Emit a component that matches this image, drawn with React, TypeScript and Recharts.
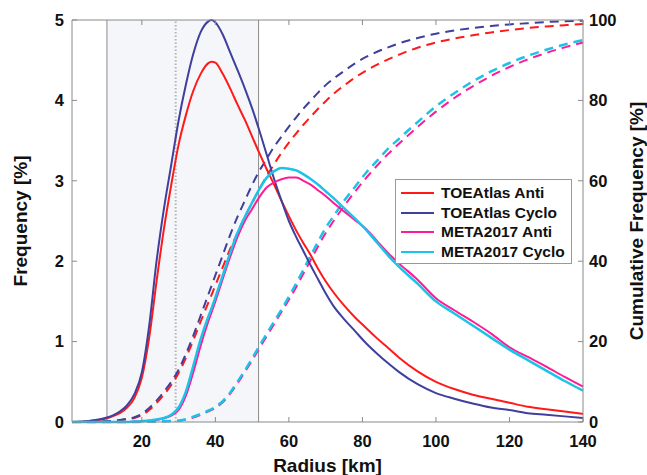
import { LineChart, Line, XAxis, YAxis, ReferenceArea, ReferenceLine, Legend, Label } from 'recharts';

const radius = [1, 5, 10, 12, 14, 16, 18, 20, 22, 24, 26, 28, 30, 32, 34, 36, 38, 39, 40, 42, 44, 46, 48, 50, 52, 54, 56, 58, 60, 62, 64, 66, 68, 70, 72, 75, 78, 81, 84, 87, 90, 95, 100, 105, 110, 115, 120, 125, 130, 135, 140];

// frequency [%]
const toeAnti = [0, 0.01, 0.04, 0.07, 0.11, 0.18, 0.3, 0.55, 1.05, 1.75, 2.4, 2.95, 3.45, 3.82, 4.12, 4.33, 4.46, 4.48, 4.47, 4.33, 4.15, 3.95, 3.76, 3.55, 3.34, 3.14, 2.95, 2.75, 2.56, 2.38, 2.22, 2.07, 1.9, 1.75, 1.62, 1.45, 1.3, 1.17, 1.04, 0.92, 0.8, 0.63, 0.5, 0.41, 0.34, 0.29, 0.24, 0.19, 0.16, 0.13, 0.1];
const toeCyclo = [0, 0.01, 0.05, 0.08, 0.13, 0.21, 0.35, 0.62, 1.2, 2.0, 2.65, 3.2, 3.75, 4.2, 4.58, 4.85, 4.98, 5.0, 4.97, 4.82, 4.6, 4.38, 4.15, 3.9, 3.62, 3.32, 3.02, 2.75, 2.5, 2.3, 2.12, 1.94, 1.77, 1.6, 1.45, 1.28, 1.13, 0.98, 0.85, 0.73, 0.62, 0.47, 0.36, 0.29, 0.23, 0.18, 0.15, 0.11, 0.09, 0.07, 0.05];
const metaAnti = [0, 0, 0, 0, 0, 0, 0.005, 0.01, 0.015, 0.025, 0.045, 0.08, 0.15, 0.33, 0.62, 0.95, 1.24, 1.37, 1.5, 1.78, 2.05, 2.3, 2.5, 2.65, 2.8, 2.92, 2.98, 3.02, 3.04, 3.04, 3.0, 2.95, 2.88, 2.81, 2.73, 2.62, 2.51, 2.4, 2.25, 2.1, 1.97, 1.77, 1.54, 1.39, 1.25, 1.1, 0.93, 0.81, 0.69, 0.56, 0.44];
const metaCyclo = [0, 0, 0, 0, 0, 0, 0.005, 0.01, 0.02, 0.03, 0.05, 0.09, 0.18, 0.38, 0.7, 1.03, 1.3, 1.42, 1.55, 1.82, 2.1, 2.35, 2.55, 2.73, 2.9, 3.04, 3.12, 3.16, 3.15, 3.13, 3.08, 3.02, 2.95, 2.87, 2.79, 2.66, 2.53, 2.39, 2.23, 2.07, 1.93, 1.72, 1.5, 1.35, 1.2, 1.05, 0.9, 0.77, 0.64, 0.51, 0.39];

// cumulative frequency [%]
const toeAntiCum = [0, 0, 0.1, 0.2, 0.4, 0.7, 1.0, 1.7, 3.0, 4.7, 6.8, 9.2, 12.2, 16, 20.3, 25, 29.5, 31.7, 34, 38.5, 43, 47, 51, 54.5, 58, 61.2, 64.2, 67, 69.5, 71.8, 74, 76, 78, 79.8, 81.5, 83.7, 85.7, 87.4, 88.9, 90.2, 91.4, 93.1, 94.4, 95.4, 96.2, 96.9, 97.5, 98, 98.4, 98.7, 99];
const toeCycloCum = [0, 0, 0.2, 0.3, 0.5, 0.8, 1.2, 2.0, 3.5, 5.3, 7.5, 10, 13, 17, 21.5, 26.5, 31.5, 34, 36.5, 41.5, 46.5, 51, 55, 59, 62.5, 65.5, 68.5, 71, 73.5, 75.8, 78, 80, 82, 83.8, 85.3, 87.3, 89.2, 90.8, 92.1, 93.2, 94.2, 95.5, 96.6, 97.4, 98, 98.5, 98.9, 99.2, 99.5, 99.7, 99.8];
const metaAntiCum = [0, 0, 0, 0, 0, 0, 0, 0.05, 0.1, 0.15, 0.2, 0.25, 0.3, 0.6, 1.1, 1.8, 2.6, 3.0, 3.5, 4.9, 7.0, 9.6, 12.4, 15.3, 18.4, 21.4, 24.4, 27.4, 30.4, 33.6, 37, 40.4, 43.8, 47, 49.8, 53.7, 57.3, 60.7, 63.8, 66.7, 69.3, 73.4, 77.2, 80.6, 83.5, 86.1, 88.3, 90.2, 91.8, 93.2, 94.4];
const metaCycloCum = [0, 0, 0, 0, 0, 0, 0, 0.05, 0.1, 0.15, 0.2, 0.25, 0.3, 0.7, 1.3, 2.0, 2.8, 3.2, 3.8, 5.2, 7.3, 10, 12.8, 15.8, 19, 22, 25, 28, 31.2, 34.5, 38, 41.5, 45, 48.3, 51, 55, 58.5, 62, 65, 68, 70.5, 74.6, 78.5, 81.8, 84.7, 87.2, 89.3, 91.1, 92.6, 93.9, 95];

const xTicks = [20, 40, 60, 80, 100, 120, 140];
const leftTicks = [0, 1, 2, 3, 4, 5];
const rightTicks = [0, 20, 40, 60, 80, 100];

// shaded band + dotted marker (km)
const bandStart = 10.5;
const bandEnd = 51.75;
const markerR = 29.2;

const data = radius.map((r, i) => ({
  r,
  toeAnti: toeAnti[i],
  toeCyclo: toeCyclo[i],
  metaAnti: metaAnti[i],
  metaCyclo: metaCyclo[i],
  toeAntiCum: toeAntiCum[i],
  toeCycloCum: toeCycloCum[i],
  metaAntiCum: metaAntiCum[i],
  metaCycloCum: metaCycloCum[i],
}));

const RED = '#ff1a1a';
const BLUE = '#3f3f9e';
const PINK = '#ff1a96';
const CYAN = '#1cc3e8';
const AXIS = '#8a8a8a';
const FONT = '"Liberation Sans", Arial, Helvetica, sans-serif';
const DASH = '9 6';

const series = [
  { key: 'toeAnti', name: 'TOEAtlas Anti', color: RED, width: 2 },
  { key: 'toeCyclo', name: 'TOEAtlas Cyclo', color: BLUE, width: 2 },
  { key: 'metaAnti', name: 'META2017 Anti', color: PINK, width: 2 },
  { key: 'metaCyclo', name: 'META2017 Cyclo', color: CYAN, width: 2.5 },
];

const TICK = 5;
const TITLE_SIZE = 19;
const TICK_SIZE = 16.5;

function BottomTick(props: any) {
  const { x, y, payload } = props;
  return (
    <g>
      <line x1={x} x2={x} y1={y - 8} y2={y - 8 - TICK} stroke={AXIS} />
      <text x={x} y={y} dy={16.5} textAnchor="middle" fontSize={TICK_SIZE} fontWeight="bold" fontFamily={FONT} fill="#111">
        {payload.value}
      </text>
    </g>
  );
}

function TopTick(props: any) {
  const { x, y } = props;
  return <line x1={x} x2={x} y1={y + 8} y2={y + 8 + TICK} stroke={AXIS} />;
}

function LeftTick(props: any) {
  const { x, y, payload } = props;
  return (
    <g>
      <line x1={x + 8} x2={x + 8 + TICK} y1={y} y2={y} stroke={AXIS} />
      <text x={x} y={y} dy={5.8} textAnchor="end" fontSize={TICK_SIZE} fontWeight="bold" fontFamily={FONT} fill="#111">
        {payload.value}
      </text>
    </g>
  );
}

function RightTick(props: any) {
  const { x, y, payload } = props;
  return (
    <g>
      <line x1={x - 6} x2={x - 6 - TICK} y1={y} y2={y} stroke={AXIS} />
      <text x={x} y={y} dy={5.8} textAnchor="start" fontSize={TICK_SIZE} fontWeight="bold" fontFamily={FONT} fill="#111">
        {payload.value}
      </text>
    </g>
  );
}

function LegendBox() {
  return (
    <div
      style={{
        border: '1px solid #999',
        background: '#fff',
        padding: '3px 0 3px 5px',
        boxSizing: 'border-box',
        width: 177,
        height: 85,
      }}
    >
      {series.map((s) => (
        <div key={s.key} style={{ display: 'flex', alignItems: 'center', height: 19.7 }}>
          <div style={{ width: 33, height: s.width, background: s.color, marginRight: 7 }} />
          <span style={{ fontFamily: FONT, fontWeight: 'bold', fontSize: 15.5, color: '#111', lineHeight: 1 }}>{s.name}</span>
        </div>
      ))}
    </div>
  );
}

function rotatedTitle(text: string, dx: number) {
  return ({ viewBox }: any) => {
    const cx = viewBox.x + dx;
    const cy = viewBox.y + viewBox.height / 2;
    return (
      <text x={cx} y={cy} transform={`rotate(-90 ${cx} ${cy})`} textAnchor="middle" dominantBaseline="central" fontFamily={FONT} fontWeight="bold" fontSize={TITLE_SIZE} fill="#111">
        {text}
      </text>
    );
  };
}

export default function App() {
  return (
    <div style={{ position: 'absolute', left: 0, top: 0, background: '#fff' }}>
      <LineChart width={647} height={475} data={data} margin={{ top: 0, right: 0, bottom: 0, left: 0 }}>
        <XAxis
          xAxisId="top"
          orientation="top"
          dataKey="r"
          type="number"
          domain={[1, 140]}
          ticks={xTicks}
          interval={0}
          height={20}
          tickSize={0}
          tickMargin={8}
          tick={<TopTick />}
          axisLine={{ stroke: AXIS }}
          tickLine={false}
        />
        <XAxis
          xAxisId="x"
          dataKey="r"
          type="number"
          domain={[1, 140]}
          ticks={xTicks}
          interval={0}
          height={53}
          tickSize={0}
          tickMargin={8}
          tick={<BottomTick />}
          axisLine={{ stroke: AXIS }}
          tickLine={false}
        >
          <Label value="Radius [km]" position="insideBottom" offset={3} style={{ fontFamily: FONT, fontWeight: 'bold', fontSize: TITLE_SIZE, fill: '#111' }} />
        </XAxis>
        <YAxis
          yAxisId="left"
          domain={[0, 5]}
          ticks={leftTicks}
          interval={0}
          width={72}
          tickSize={0}
          tickMargin={8}
          tick={<LeftTick />}
          axisLine={{ stroke: AXIS }}
          tickLine={false}
        >
          <Label content={rotatedTitle('Frequency [%]', 20)} />
        </YAxis>
        <YAxis
          yAxisId="right"
          orientation="right"
          domain={[0, 100]}
          ticks={rightTicks}
          interval={0}
          width={64}
          tickSize={0}
          tickMargin={6}
          tick={<RightTick />}
          axisLine={{ stroke: AXIS }}
          tickLine={false}
        >
          <Label content={rotatedTitle('Cumulative Frequency [%]', 53.5)} />
        </YAxis>

        <ReferenceArea xAxisId="x" yAxisId="left" x1={bandStart} x2={bandEnd} fill="#f5f6f9" fillOpacity={1} stroke="none" />
        <ReferenceLine xAxisId="x" yAxisId="left" x={bandStart} stroke={AXIS} strokeWidth={1} />
        <ReferenceLine xAxisId="x" yAxisId="left" x={bandEnd} stroke={AXIS} strokeWidth={1} />
        <ReferenceLine xAxisId="x" yAxisId="left" x={markerR} stroke="#b4b4b4" strokeWidth={2} strokeDasharray="1.5 2" />

        <Legend layout="vertical" align="center" verticalAlign="middle" content={<LegendBox />} wrapperStyle={{ left: 395, top: 179, width: 177 }} />

        <Line xAxisId="x" yAxisId="right" dataKey="toeAntiCum" stroke={RED} strokeWidth={2} strokeDasharray={DASH} dot={false} type="monotone" legendType="none" isAnimationActive={false} />
        <Line xAxisId="x" yAxisId="right" dataKey="toeCycloCum" stroke={BLUE} strokeWidth={2} strokeDasharray={DASH} dot={false} type="monotone" legendType="none" isAnimationActive={false} />
        <Line xAxisId="x" yAxisId="right" dataKey="metaAntiCum" stroke={PINK} strokeWidth={2} strokeDasharray={DASH} dot={false} type="monotone" legendType="none" isAnimationActive={false} />
        <Line xAxisId="x" yAxisId="right" dataKey="metaCycloCum" stroke={CYAN} strokeWidth={2.5} strokeDasharray={DASH} dot={false} type="monotone" legendType="none" isAnimationActive={false} />

        {series.map((s) => (
          <Line
            key={s.key}
            xAxisId="x"
            yAxisId="left"
            dataKey={s.key}
            name={s.name}
            stroke={s.color}
            strokeWidth={s.width}
            dot={false}
            type="monotone"
            isAnimationActive={false}
          />
        ))}
      </LineChart>
    </div>
  );
}
